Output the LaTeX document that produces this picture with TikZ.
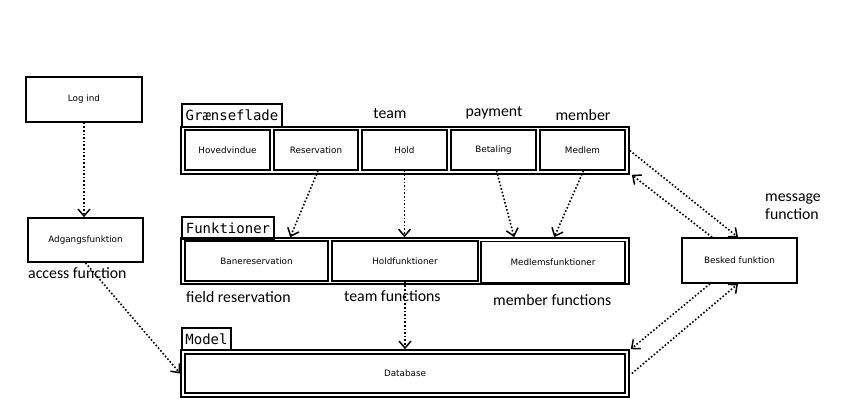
\documentclass[tikz,border=0pt]{standalone}
\usepackage{fontspec}
\usetikzlibrary{arrows.meta}
\newfontfamily\boxfont{DejaVu Sans}
\newfontfamily\labfont{Carlito}
\newfontfamily\monofont{DejaVu Sans Mono}
\begin{document}
\begin{tikzpicture}[x=1pt,y=-1pt,
  box/.style={draw,line width=1.6pt,inner sep=0pt,font=\boxfont\fontsize{8.8}{10}\selectfont},
  cont/.style={draw,line width=1.6pt,inner sep=0pt},
  tag/.style={draw,line width=1.6pt,inner sep=0pt,font=\monofont\fontsize{14}{16}\selectfont},
  lab/.style={inner sep=0pt,font=\labfont\fontsize{15.8}{18}\selectfont},
  conn/.style={line width=1.6pt,dash pattern=on 1.6pt off 2pt,-{Straight Barb[length=7pt,width=12pt,line width=1.5pt]}}]
\useasboundingbox (0,0) rectangle (862,417);
% left column
\node[box,minimum width=116pt,minimum height=45pt] (login) at (84,99.5) {Log ind};
\node[box,minimum width=115pt,minimum height=44pt] (adg) at (85.5,240) {Adgangsfunktion};
\node[lab,anchor=west] (accl) at (28,273) {access function};
% Graenseflade
\node[tag,minimum width=100pt,minimum height=23pt] (gltag) at (232,115.5) {Grænseflade};
\node[cont,minimum width=448pt,minimum height=47pt] (glc) at (405,150.5) {};
\node[box,minimum width=85pt,minimum height=40pt] (hov) at (227.5,150) {Hovedvindue};
\node[box,minimum width=84pt,minimum height=40pt] (res) at (316,150) {Reservation};
\node[box,minimum width=85pt,minimum height=40pt] (hold) at (404.5,150) {Hold};
\node[box,minimum width=85pt,minimum height=40pt] (bet) at (493.5,150) {Betaling};
\node[box,minimum width=85pt,minimum height=40pt] (med) at (582.5,150) {Medlem};
\node[lab] (teaml) at (390,114) {team};
\node[lab] (payl) at (494,113) {payment};
\node[lab] (meml) at (583,115) {member};
% Funktioner
\node[tag,minimum width=92pt,minimum height=22pt] (fntag) at (228,228) {Funktioner};
\node[cont,minimum width=448pt,minimum height=46pt] (fnc) at (405,261) {};
\node[box,minimum width=143pt,minimum height=40pt] (bane) at (256.5,261) {Banereservation};
\node[box,minimum width=146pt,minimum height=40pt] (holdf) at (405,261) {Holdfunktioner};
\node[box,minimum width=144pt,minimum height=41pt] (medf) at (553,262) {Medlemsfunktioner};
\node[lab,anchor=west] (fieldl) at (186,297) {field reservation};
\node[lab,anchor=west] (teamfl) at (344,296) {team functions};
\node[lab,anchor=west] (memfl) at (493,300) {member functions};
% Model
\node[tag,minimum width=49pt,minimum height=22pt] (mdltag) at (206.5,339) {Model};
\node[cont,minimum width=448pt,minimum height=47pt] (mdlc) at (405,373.5) {};
\node[box,minimum width=440pt,minimum height=39pt] (db) at (405,373.5) {Database};
% Besked
\node[box,minimum width=115pt,minimum height=45pt] (besked) at (739.5,260.5) {Besked funktion};
\node[lab,anchor=north west,align=left] (msgl) at (765,194) {message\\function};
% connectors
\draw[conn] (login.south) -- (login.south |- adg.north);
\draw[conn] (adg.south) -- (mdlc.west);
\draw[conn] ([xshift=2pt]res.south) -- ([xshift=110pt]fnc.north west);
\draw[conn] (hold.south) -- (hold.south |- fnc.north);
\draw[conn] ([xshift=3pt]bet.south) -- ([xshift=334pt]fnc.north west);
\draw[conn] ([xshift=1pt]med.south) -- ([xshift=374pt]fnc.north west);
\draw[conn] (holdf.south) -- (mdlc.north);
\draw[conn] (glc.east) -- ([xshift=-1.5pt]besked.north);
\draw[conn] ([xshift=-27.5pt]besked.north) -- ([xshift=2pt]glc.south east);
\draw[conn] ([xshift=-29.5pt]besked.south) -- ([xshift=1pt]mdlc.north east);
\draw[conn] ([xshift=2pt]mdlc.east) -- ([xshift=-1.5pt]besked.south);
\end{tikzpicture}
\end{document}
